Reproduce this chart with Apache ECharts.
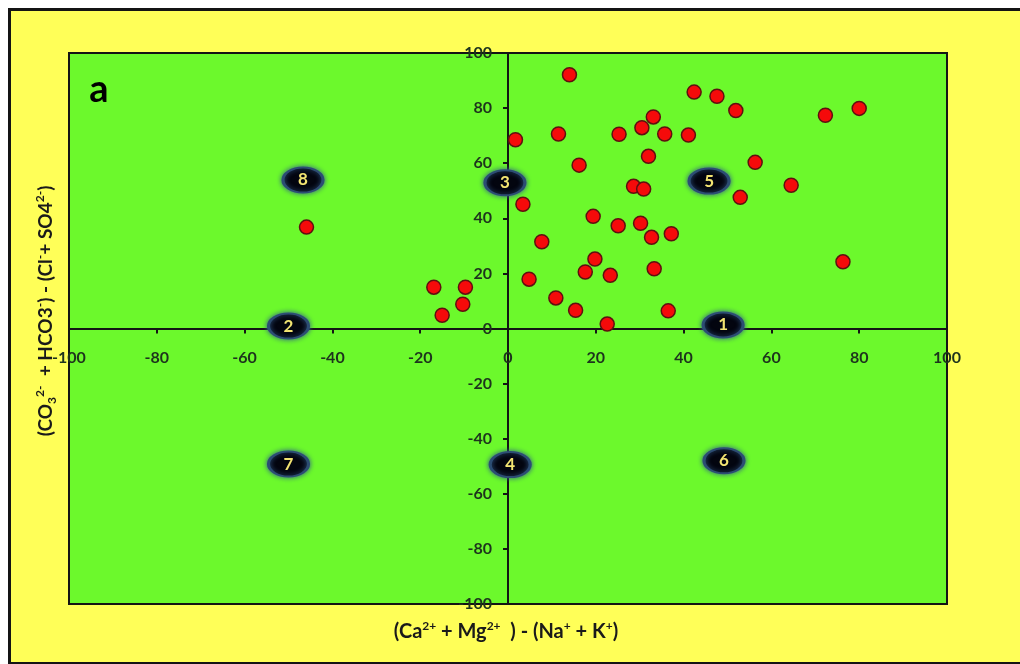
<!DOCTYPE html>
<html>
<head>
<meta charset="utf-8">
<script src="https://cdn.jsdelivr.net/npm/echarts@6/dist/echarts.min.js"></script>
<style>
  html, body { margin: 0; padding: 0; background: #ffffff; }
  #wrap { position: relative; width: 1020px; height: 664px; overflow: hidden; background: #ffffff; }
  #panel { position: absolute; left: 8px; top: 8px; width: 1030px; height: 651px;
           background: #ffff58; border: 3px solid #141414; }
  #chart { position: absolute; left: 0; top: 0; width: 1020px; height: 664px; }
</style>
</head>
<body>
<div id="wrap">
  <div id="panel"></div>
  <div id="chart"></div>
</div>
<script>
// Sample points: (Ca + Mg) - (Na + K) against (CO3 + HCO3) - (Cl + SO4), in %
const sampleX = [14.0, 42.4, 47.6, 51.9, 72.3, 80.0, 33.1, 30.5, 11.5, 25.3, 35.7, 41.1, 1.7, 32.0,
                 16.2, 56.3, 28.6, 30.9, 64.5, 52.9, 3.4, 19.4, 25.1, 30.2, 32.7, 37.2, 7.7, 19.8,
                 17.6, 23.3, 33.3, 76.3, 4.8, 10.9, 15.4, 36.5, 22.6, -45.9, -16.9, -9.7, -10.3, -15.0];
const sampleY = [92.1, 85.8, 84.3, 79.1, 77.4, 79.9, 76.8, 72.9, 70.6, 70.5, 70.6, 70.2, 68.5, 62.5,
                 59.3, 60.3, 51.6, 50.6, 52.0, 47.6, 45.1, 40.7, 37.3, 38.2, 33.1, 34.4, 31.5, 25.2,
                 20.5, 19.3, 21.7, 24.2, 17.9, 11.1, 6.6, 6.4, 1.6, 36.8, 15.0, 15.0, 8.8, 4.8];

// Field numbers of the diagram and where they sit
const zoneNames = ['1', '2', '3', '4', '5', '6', '7', '8'];
const zoneX = [49.0, -50.0, -0.7, 0.5, 45.8, 49.2, -50.0, -46.7];
const zoneY = [1.3, 0.9, 52.9, -49.4, 53.5, -48.0, -49.2, 53.9];

// Axis range and tick step
const axisMin = -100;
const axisMax = 100;
const axisStep = 20;

const FONT = 'Lato, "Open Sans", sans-serif';
const tickColor = '#1d331d';
const titleColor = '#1a1a1a';

const GRID_W = 878;
const GRID_H = 551;

const chart = echarts.init(document.getElementById('chart'), null, { renderer: 'canvas' });

const points = sampleX.map((x, i) => [x, sampleY[i]]);
const zones = zoneNames.map((n, i) => ({ name: n, value: [zoneX[i], zoneY[i]] }));

const axisCommon = {
  type: 'value',
  min: axisMin,
  max: axisMax,
  interval: axisStep,
  splitLine: { show: false },
  axisLine: { show: true, onZero: false, lineStyle: { color: '#141414', width: 2 } },
  axisTick: { show: true, inside: false, length: 5, lineStyle: { color: '#141414', width: 2 } },
  axisLabel: {
    showMinLabel: true, showMaxLabel: true,
    color: tickColor, fontFamily: FONT, fontWeight: 'bold', fontSize: 16
  }
};

const supStyle = { fontSize: 12, fontWeight: 'bold', fontFamily: FONT, verticalAlign: 'top', lineHeight: 14, fill: titleColor };
const subStyle = { fontSize: 12, fontWeight: 'bold', fontFamily: FONT, verticalAlign: 'bottom', lineHeight: 14, fill: titleColor };

// Both axes cross in the middle of the plot, so they are shifted to the zero lines
chart.setOption({
  backgroundColor: 'transparent',
  animation: false,
  grid: {
    left: 69, top: 53, width: GRID_W, height: GRID_H,
    show: true, backgroundColor: '#6cf92c', borderColor: '#141414', borderWidth: 2
  },
  xAxis: Object.assign({}, axisCommon, {
    position: 'bottom',
    offset: -GRID_H / 2,
    axisLabel: Object.assign({}, axisCommon.axisLabel, { margin: 21 })
  }),
  yAxis: Object.assign({}, axisCommon, {
    position: 'left',
    offset: -GRID_W / 2,
    axisLabel: Object.assign({}, axisCommon.axisLabel, { margin: 16 })
  }),
  graphic: [
    {
      type: 'text', x: 99, y: 90, silent: true,
      style: { text: 'a', fill: '#000', font: 'bold 38px ' + FONT, align: 'center', verticalAlign: 'middle' }
    },
    {
      type: 'text', x: 506, y: 632, silent: true,
      style: {
        text: '(Ca{sup|2+} + Mg{sup|2+}  ) - (Na{sup|+} + K{sup|+})',
        fill: titleColor, font: 'bold 20px ' + FONT, align: 'center', verticalAlign: 'middle',
        lineHeight: 24,
        rich: { sup: supStyle }
      }
    },
    {
      type: 'text', x: 46, y: 311, rotation: Math.PI / 2, silent: true,
      style: {
        text: '(CO{sub|3}{sup|2-}  + HCO3{sup|-}) - (Cl{sup|-}+ SO4{sup|2-})',
        fill: titleColor, font: 'bold 19px ' + FONT, align: 'center', verticalAlign: 'middle',
        lineHeight: 24,
        rich: { sup: supStyle, sub: subStyle }
      }
    }
  ],
  series: [
    {
      name: 'fields',
      type: 'scatter',
      z: 3,
      symbol: 'circle',
      symbolSize: [40, 25],
      data: zones,
      itemStyle: {
        color: '#03050f', opacity: 1, borderColor: '#2c4d73', borderWidth: 2.5,
        shadowBlur: 5, shadowColor: 'rgba(50,90,140,0.95)'
      },
      label: {
        show: true, position: 'inside', formatter: '{b}',
        color: '#f3e472', fontFamily: FONT, fontWeight: 'bold', fontSize: 17
      },
      emphasis: { disabled: true }
    },
    {
      name: 'samples',
      type: 'scatter',
      z: 4,
      symbol: 'circle',
      symbolSize: 14,
      data: points,
      itemStyle: { color: '#f50a0a', opacity: 1, borderColor: '#5e1010', borderWidth: 1.5 },
      emphasis: { disabled: true }
    }
  ]
});
</script>
</body>
</html>
